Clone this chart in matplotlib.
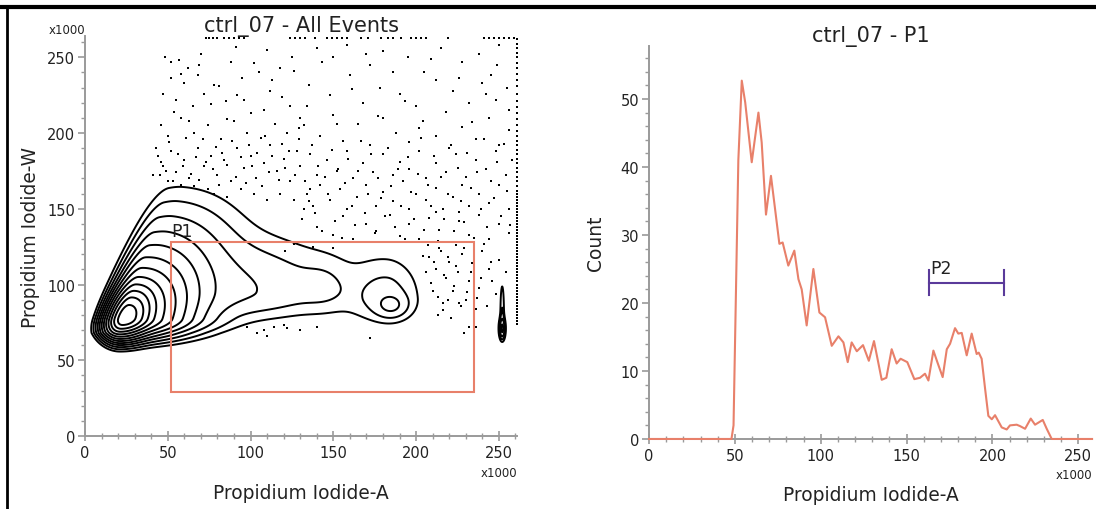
import numpy as np
import matplotlib as mpl
import matplotlib.pyplot as plt
from matplotlib.lines import Line2D
from matplotlib.patches import Rectangle
from matplotlib.ticker import MultipleLocator

mpl.rcParams.update({
    "font.family": ["DejaVu Sans"],
    "font.size": 10,
})

GREY = "#9a9a9a"
TEXT = "#222222"
SALMON = "#e8806a"
PURPLE = "#5a3a9a"

# ---- left panel: density model, split-normal components (x1000 units)
# centre x, centre y, sigma left, sigma right, sigma down, sigma up, weight, shear
COMP_X = [21, 21, 22, 30, 100, 145, 185, 182, 110, 252, 252]
COMP_Y = [78, 77, 78, 125, 95, 98, 86, 91, 100, 71, 80]
COMP_SXL = [5, 5.5, 6, 10, 28, 10, 6, 14, 45, 1.0, 0.8]
COMP_SXR = [7.5, 16, 25, 25, 28, 10, 6, 12, 45, 1.0, 0.8]
COMP_SYD = [6, 5.5, 7, 20, 10, 10, 5, 10, 14, 4, 3]
COMP_SYU = [10, 18, 30, 20, 20, 12, 5, 16, 22, 4, 14]
COMP_W = [1.0, 0.3, 0.07, 0.004, 0.0065, 0.0025, 0.006, 0.005, 0.001, 0.02, 0.004]
COMP_SHEAR = [0.3, 0.3, 0.3, 0.3, 0, 0, 0, 0, 0, 0, 0]
SHEAR_PIVOT_Y = 68
LEVEL_FRAC = [0.0012, 0.0028, 0.006, 0.012, 0.022, 0.04, 0.07, 0.12, 0.2, 0.32, 0.5, 0.75]

# outlier events outside the contours
DOTS_A_X = [48, 52, 57, 62, 70, 88, 110, 125, 52, 60, 68, 78, 95, 105, 118,
            55, 65, 72, 85, 92, 100, 112, 124, 46, 50, 58, 66, 74, 82, 90, 98,
            106, 115, 122, 130, 44, 47, 52, 55, 60, 63, 68, 72, 76, 80, 84, 88,
            92, 96, 100, 103, 108, 112, 116, 120, 124, 128, 45, 50, 58, 66, 74,
            78, 86, 94, 102, 110, 118, 126, 132, 136]
DOTS_A_Y = [250, 247, 248, 243, 252, 247, 255, 250, 236, 233, 238, 232, 236, 240, 243,
            222, 218, 226, 221, 225, 213, 228, 218, 205, 198, 210, 200, 205, 196, 208, 200,
            197, 206, 200, 210, 185, 178, 188, 174, 182, 170, 190, 178, 185, 172, 182, 168,
            190, 177, 185, 170, 180, 192, 175, 183, 168, 188, 172, 168, 166, 165, 163,
            160, 158, 163, 160, 156, 160, 156, 150, 163]
DOTS_B_X = [41, 43, 46, 49, 51, 53, 56, 59, 61, 64, 67, 69, 71, 73, 77, 79, 81, 83,
            86, 89, 91, 94, 97, 99, 101, 104, 107, 109, 111, 113, 117, 119, 121, 123,
            127, 129, 47, 54, 58, 63, 69, 76, 81, 86, 91, 96, 102, 108, 113, 119, 126, 129]
DOTS_B_Y = [172, 190, 181, 175, 194, 168, 186, 178, 197, 173, 184, 169, 196, 181, 176,
            191, 166, 187, 179, 195, 171, 184, 167, 192, 178, 187, 165, 198, 174, 185,
            169, 193, 177, 188, 172, 196, 226, 214, 239, 208, 245, 219, 231, 209, 257,
            222, 246, 215, 235, 224, 241, 203]
DOTS_C_X = [140, 150, 158, 172, 180, 195, 205, 215, 228, 238, 245, 250,
            135, 148, 160, 168, 178, 190, 200, 212, 222, 232, 240, 248, 255,
            132, 142, 150, 156, 165, 172, 180, 188, 196, 204, 212, 220, 228, 236, 244, 250, 256,
            130, 136, 140, 146, 152, 158, 162, 168, 174, 180, 186, 190, 196, 202, 206, 212,
            218, 224, 230, 236, 242, 248, 254, 258,
            134, 138, 142, 148, 154, 158, 164, 170, 176, 180, 186, 192, 196, 200, 206, 212,
            216, 222, 228, 232, 238, 244, 250, 256,
            140, 150, 156, 162, 170, 176, 184, 190, 196, 202, 208, 214, 220, 226, 232, 238,
            244, 250, 256, 226, 212]
DOTS_C_Y = [256, 250, 258, 245, 254, 250, 240, 256, 247, 252, 238, 258,
            232, 225, 238, 220, 230, 226, 218, 235, 228, 220, 233, 222, 230,
            205, 198, 212, 195, 206, 192, 210, 200, 194, 208, 198, 190, 204, 196, 210, 192, 202,
            178, 186, 172, 182, 175, 188, 170, 180, 174, 186, 172, 181, 176, 188, 170, 180,
            174, 186, 171, 182, 176, 188, 172, 182,
            160, 152, 166, 156, 163, 150, 158, 166, 152, 161, 155, 168, 150, 160, 156, 164,
            150, 158, 166, 152, 160, 154, 166, 150,
            138, 133, 145, 130, 140, 135, 146, 132, 140, 130, 144, 136, 128, 142, 133, 146,
            130, 140, 134, 148, 148]
DOTS_D_X = [131, 133, 135, 137, 139, 141, 143, 145, 147, 149, 151, 153, 155, 157, 159,
            161, 163, 165, 167, 169, 171, 173, 175, 177, 179, 181, 183, 185, 187, 189,
            191, 193, 195, 197, 199, 201, 203, 205, 207, 209, 211, 213, 215, 217, 219,
            221, 223, 225, 227, 229, 231, 233, 235, 237, 239, 241, 243, 245, 247, 249,
            251, 253, 255, 257, 134, 143, 152, 161, 170, 177, 186, 193, 202, 209, 218,
            226, 234, 242, 249, 256, 121, 126, 138, 150, 158]
DOTS_D_Y = [143, 168, 155, 192, 147, 178, 135, 171, 160, 189, 142, 176, 131, 167, 183,
            152, 139, 175, 195, 147, 160, 186, 134, 170, 157, 145, 190, 165, 138, 176,
            152, 130, 184, 161, 143, 173, 197, 136, 166, 152, 185, 129, 171, 143, 160,
            192, 135, 177, 155, 141, 187, 164, 131, 174, 150, 196, 138, 168, 157, 181,
            145, 193, 162, 139, 218, 247, 206, 229, 252, 211, 240, 221, 203, 249, 214,
            236, 207, 226, 245, 215, 122, 127, 125, 124, 128]
DOTS_E_X = [204, 206, 207, 209, 211, 213, 214, 216, 217, 219, 221, 223, 224, 227, 229,
            231, 233, 235, 237, 239, 241, 243, 245, 236, 229, 219, 213,
            208, 212, 215, 218, 220, 222, 225, 228, 230, 232, 234, 236, 226, 238, 240, 244,
            246, 248, 250, 254, 232, 210, 216, 224,
            104, 108, 110, 114, 122, 130, 140, 172, 120, 98]
DOTS_E_Y = [119, 108, 126, 101, 115, 92, 124, 83, 106, 118, 78, 99, 112, 86, 124,
            95, 108, 119, 91, 104, 127, 86, 115, 72, 68, 90, 80,
            118, 110, 122, 104, 115, 96, 108, 120, 90, 102, 114, 84, 88, 98, 122, 110,
            102, 94, 116, 108, 72, 96, 88, 126,
            68, 70, 66, 72, 71, 70, 72, 65, 73, 72]

# saturated events piled up on the top and right edges
TOP_X = [73, 75, 77, 80, 84, 87, 90, 93, 96, 124, 127, 130, 133, 139, 146, 149,
         152, 155, 158, 167, 171, 179, 183, 186, 191, 197, 200, 203, 206, 219,
         241, 244, 247, 250, 253, 256, 259]
TOP_Y = 262.5
SAT_X = 261
SAT_Y = [262, 259, 256, 253, 250, 246, 243, 239, 235, 231, 226, 221, 217, 213,
         209, 205, 201, 198, 195, 192, 189, 186, 183, 180, 177, 174, 171, 168,
         165, 162, 160, 158, 156, 154, 152, 150, 148, 146, 144, 142, 140, 138,
         136, 134, 132, 130, 128, 126, 124, 122, 120, 118, 116, 114, 112, 110,
         108, 106, 104, 102, 100, 98, 96, 94, 92, 90, 88, 86, 84, 82, 80, 78, 76, 74]

P1_GATE = (52, 29, 235, 128)  # xmin, ymin, xmax, ymax (x1000)

# ---- right panel: histogram of P1 (x1000 vs count)
HIST_X = [0, 48, 49.2, 52, 54, 56, 59.8, 63.7, 65.6, 68.1, 71, 73.4, 75.9, 77.8,
          81.1, 84.6, 87, 88.9, 91.8, 95.7, 99.2, 102.5, 106.4, 110.3, 113.2,
          115.7, 118, 121, 124.6, 128, 131, 135.5, 138.2, 141.3, 144.2, 146.5,
          150.4, 154.5, 157.8, 160.7, 162.7, 165.6, 167.9, 171, 173.4, 175.3,
          178.2, 180.1, 182.1, 185, 187.9, 190.8, 192, 193.7, 195.7, 197.6,
          199.6, 201.5, 205.4, 208.3, 210.2, 214.1, 216, 219, 222.3, 224.8,
          229.3, 231.6, 234.5, 258]
HIST_Y = [0, 0, 2, 41, 52.7, 49.5, 40.7, 48, 43.6, 33, 38.7, 33.8, 28.7, 28.9,
          25.5, 27.7, 23.5, 22, 16.7, 25, 18.6, 17.9, 13.7, 15.1, 14.2, 11.3,
          14.2, 12.9, 13.8, 11.5, 14.4, 8.7, 9, 13.2, 11.1, 11.8, 11.3, 8.8, 9,
          9.6, 8.6, 13, 11.3, 9.1, 13.2, 14, 16.3, 15.5, 15.6, 12.3, 15.5, 12.5,
          12.7, 11.8, 7.4, 3.4, 2.9, 3.5, 1.7, 1.4, 2, 2.1, 1.9, 1.5, 3, 2.1,
          2.8, 1.5, 0, 0]
P2_GATE = (163.3, 206.8, 23)  # xmin, xmax, y


def style_axis(ax):
    for side in ("top", "right"):
        ax.spines[side].set_visible(False)
    for side in ("left", "bottom"):
        ax.spines[side].set_color(GREY)
        ax.spines[side].set_linewidth(1.4)
    ax.xaxis.set_major_locator(MultipleLocator(50))
    ax.xaxis.set_minor_locator(MultipleLocator(10))
    ax.tick_params(axis="x", which="major", direction="inout", length=7, width=1.2,
                   color=GREY, labelcolor=TEXT, labelsize=10.5, pad=3)
    ax.tick_params(axis="x", which="minor", direction="inout", length=4, width=1.0, color=GREY)
    ax.tick_params(axis="y", which="major", direction="out", length=5, width=1.2,
                   color=GREY, labelcolor=TEXT, labelsize=10.5, pad=2)
    ax.tick_params(axis="y", which="minor", direction="out", length=3, width=1.0, color=GREY)


def density(gx, gy):
    z = np.zeros_like(gx)
    comps = zip(COMP_X, COMP_Y, COMP_SXL, COMP_SXR, COMP_SYD, COMP_SYU, COMP_W, COMP_SHEAR)
    for mx, my, sxl, sxr, syd, syu, w, k in comps:
        xs = gx - k * np.clip(gy - SHEAR_PIVOT_Y, 0, None)
        sx = np.where(xs < mx, sxl, sxr)
        sy = np.where(gy < my, syd, syu)
        z += w * np.exp(-0.5 * (((xs - mx) / sx) ** 2 + ((gy - my) / sy) ** 2))
    return z


fig = plt.figure(figsize=(10.96, 5.10), dpi=100)

# ---------------- left panel
ax1 = fig.add_axes([0.0776, 0.1431, 0.3942, 0.7843])
style_axis(ax1)
ax1.yaxis.set_major_locator(MultipleLocator(50))
ax1.yaxis.set_minor_locator(MultipleLocator(10))
ax1.set_xlim(0, 261)
ax1.set_ylim(0, 264)

gx, gy = np.meshgrid(np.linspace(0, 261, 1045), np.linspace(0, 264, 1057))
z = density(gx, gy)
levels = [z.max() * f for f in LEVEL_FRAC]
ax1.contour(gx, gy, z, levels=levels, colors="black", linewidths=1.4)

dots_x = DOTS_A_X + DOTS_B_X + DOTS_C_X + DOTS_D_X + DOTS_E_X
dots_y = DOTS_A_Y + DOTS_B_Y + DOTS_C_Y + DOTS_D_Y + DOTS_E_Y
ax1.plot(dots_x, dots_y, ls="none", marker="s", ms=1.5, color="black", mew=0)
ax1.plot(TOP_X, [TOP_Y] * len(TOP_X), ls="none", marker="s", ms=1.6, color="black", mew=0, clip_on=False)
ax1.plot([SAT_X] * len(SAT_Y), SAT_Y, ls="none", marker="s", ms=1.8, color="black", mew=0, clip_on=False)

gx0, gy0, gx1, gy1 = P1_GATE
ax1.add_patch(Rectangle((gx0, gy0), gx1 - gx0, gy1 - gy0, fill=False,
                        edgecolor=SALMON, linewidth=1.5, zorder=3))
ax1.text(gx0, gy1 + 1.5, "P1", fontsize=12.5, color=TEXT, ha="left", va="bottom")

ax1.set_xlabel("Propidium Iodide-A", fontsize=13.4, color=TEXT, labelpad=16.5)
ax1.set_ylabel("Propidium Iodide-W", fontsize=13.4, color=TEXT, labelpad=5)
ax1.set_title("ctrl_07 - All Events", fontsize=15, color=TEXT, pad=1)
ax1.text(0, 1.0, "x1000", transform=ax1.transAxes, fontsize=8.5, color=TEXT,
         ha="right", va="bottom")
ax1.text(1.0, -0.075, "x1000", transform=ax1.transAxes, fontsize=8.5, color=TEXT,
         ha="right", va="top")

# ---------------- right panel
ax2 = fig.add_axes([0.5922, 0.1373, 0.4042, 0.7706])
style_axis(ax2)
ax2.yaxis.set_major_locator(MultipleLocator(10))
ax2.yaxis.set_minor_locator(MultipleLocator(2))
ax2.set_xlim(0, 258)
ax2.set_ylim(0, 57.8)
ax2.plot(HIST_X, HIST_Y, color=SALMON, lw=1.5, clip_on=False, zorder=3)

p2a, p2b, p2y = P2_GATE
ax2.plot([p2a, p2b], [p2y, p2y], color=PURPLE, lw=1.5)
ax2.plot([p2a, p2a], [p2y - 1.8, p2y + 1.8], color=PURPLE, lw=1.5)
ax2.plot([p2b, p2b], [p2y - 1.8, p2y + 1.8], color=PURPLE, lw=1.5)
ax2.text(p2a + 0.5, p2y + 0.8, "P2", fontsize=12.5, color=TEXT, ha="left", va="bottom")

ax2.set_xlabel("Propidium Iodide-A", fontsize=13.4, color=TEXT, labelpad=16)
ax2.set_ylabel("Count", fontsize=13.4, color=TEXT, labelpad=11)
ax2.set_title("ctrl_07 - P1", fontsize=15, color=TEXT, pad=2)
ax2.text(1.0, -0.075, "x1000", transform=ax2.transAxes, fontsize=8.5, color=TEXT,
         ha="right", va="top")

# frame lines on top and left edge of the figure
fig.add_artist(Line2D([0, 1], [0.985, 0.985], color="black", lw=3, transform=fig.transFigure))
fig.add_artist(Line2D([0.0065, 0.0065], [0, 0.985], color="black", lw=2, transform=fig.transFigure))

fig.savefig("out.png", dpi=100)
